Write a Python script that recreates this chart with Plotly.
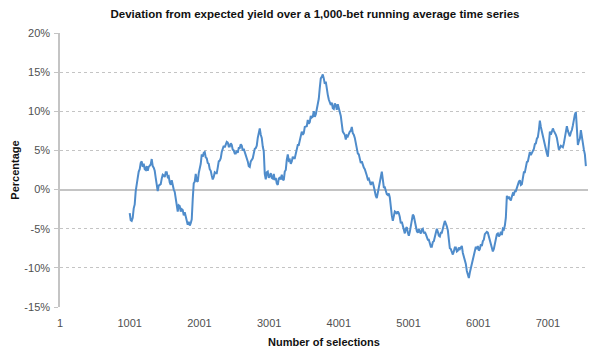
import plotly.graph_objects as go

# Running-average deviation (%), starting at selection 1001
deviation = [
    -3.0, -3.9, -4.0, -3.6, -2.4, -1.9, -0.2, 1.0, 1.5, 2.3, 2.6, 3.4, 3.6, 2.9, 3.3, 2.6, 2.5, 3.0, 2.4, 2.9,
    3.0, 3.2, 3.9, 3.0, 2.8, 2.4, 1.5, 0.3, -0.2, 0.5, 0.6, 0.7, 1.4, 1.9, 1.8, 1.6, 2.2, 2.2, 1.6, 1.7,
    0.9, 0.6, 1.2, 0.3, 0.0, -0.3, -1.0, -2.2, -2.8, -2.0, -2.1, -2.8, -2.5, -2.6, -3.3, -2.9, -3.5, -4.3, -4.5, -4.1,
    -4.6, -4.3, -3.8, -1.2, 0.8, 1.0, 2.0, 1.1, 1.0, 2.1, 2.6, 3.3, 4.5, 4.2, 4.7, 4.8, 4.1, 4.0, 3.4, 3.3,
    2.6, 2.4, 1.8, 1.3, 1.6, 2.2, 2.1, 2.1, 2.8, 3.6, 3.7, 4.0, 4.8, 5.3, 5.6, 5.4, 5.9, 6.1, 6.0, 5.5,
    5.5, 5.9, 5.7, 5.1, 5.0, 4.6, 4.6, 5.0, 4.7, 5.3, 5.3, 5.8, 5.6, 5.0, 5.2, 4.8, 4.7, 4.0, 3.6, 3.0,
    2.9, 3.6, 3.8, 4.0, 4.6, 5.2, 5.3, 5.6, 6.6, 7.5, 7.8, 7.0, 6.6, 5.5, 4.9, 2.0, 1.3, 2.2, 2.3, 1.5,
    1.7, 2.1, 1.5, 1.4, 2.0, 1.2, 1.5, 0.8, 0.6, 1.4, 1.5, 1.3, 1.9, 1.3, 1.2, 2.3, 2.5, 3.8, 4.5, 3.7,
    3.8, 3.3, 3.6, 4.2, 4.0, 4.0, 4.6, 5.4, 5.7, 5.7, 6.3, 7.1, 7.4, 7.0, 7.2, 8.0, 8.1, 8.1, 8.9, 8.4,
    8.6, 9.4, 9.2, 9.3, 10.0, 9.3, 9.6, 10.3, 10.5, 11.6, 13.0, 14.2, 14.4, 14.7, 14.2, 13.5, 13.8, 12.5, 12.1, 11.5,
    11.2, 10.8, 11.1, 10.4, 10.3, 11.0, 10.8, 10.2, 10.9, 10.4, 9.6, 9.4, 8.4, 7.4, 7.2, 7.0, 6.4, 6.9, 6.8, 7.2,
    7.4, 7.5, 8.0, 7.2, 7.0, 6.6, 6.0, 5.0, 4.6, 4.5, 3.9, 3.4, 3.6, 3.0, 2.8, 2.6, 2.0, 1.8, 1.3, 1.4,
    1.0, 0.6, 0.9, 0.9, 0.4, -0.5, -0.8, -1.1, -0.3, 0.6, 1.3, 1.6, 2.3, 1.0, 0.3, 0.3, -0.2, -0.6, -0.7, -0.5,
    -1.0, -2.4, -3.3, -4.0, -3.3, -2.8, -2.9, -3.1, -2.8, -3.0, -3.5, -4.3, -4.1, -4.6, -5.3, -5.6, -5.0, -4.8, -5.5, -5.9,
    -5.4, -4.6, -4.2, -3.2, -3.4, -4.1, -4.5, -5.3, -5.5, -5.0, -5.4, -5.6, -5.1, -5.0, -5.6, -5.4, -5.7, -6.1, -6.4, -6.4,
    -6.8, -7.3, -7.3, -6.7, -6.6, -5.9, -5.6, -5.0, -5.4, -5.9, -6.0, -5.5, -5.5, -4.8, -4.5, -4.0, -4.3, -4.7, -5.2, -6.6,
    -7.5, -7.6, -8.0, -8.3, -7.9, -7.4, -7.4, -7.9, -7.8, -7.4, -7.6, -7.3, -7.2, -8.1, -8.5, -8.8, -9.5, -10.4, -10.9, -11.3,
    -10.6, -10.0, -9.6, -8.8, -8.6, -7.8, -7.3, -7.6, -7.2, -7.8, -7.6, -7.0, -7.2, -6.6, -6.4, -5.7, -5.6, -5.4, -5.5, -6.0,
    -6.5, -7.2, -7.6, -7.9, -7.6, -6.9, -6.4, -5.7, -5.6, -6.0, -5.8, -5.4, -5.8, -5.0, -5.1, -4.6, -3.6, -0.8, -1.2, -0.9,
    -1.2, -1.4, -0.9, -0.5, -0.6, -0.2, -0.2, 0.3, 0.6, 1.0, 1.2, 0.6, 0.7, 1.6, 2.2, 2.2, 3.0, 3.5, 3.6, 4.4,
    4.8, 4.4, 4.7, 5.1, 5.2, 5.8, 5.9, 6.5, 6.7, 7.6, 8.8, 8.0, 7.4, 6.6, 6.2, 5.5, 5.2, 4.6, 4.2, 5.8,
    7.4, 7.0, 7.3, 7.8, 7.5, 7.3, 7.0, 6.6, 5.8, 5.1, 5.3, 5.6, 5.5, 5.4, 5.9, 6.5, 7.4, 8.1, 7.5, 7.0,
    6.8, 7.3, 7.6, 8.2, 9.0, 9.6, 9.9, 8.0, 5.7, 6.2, 6.5, 7.6, 6.5, 5.6, 5.1, 4.5, 3.0,
]
first_selection = 1001
step = 14.35
selections = [first_selection + step * i for i in range(len(deviation))]

x_ticks = [1, 1001, 2001, 3001, 4001, 5001, 6001, 7001]
y_ticks = [-15, -10, -5, 0, 5, 10, 15, 20]
y_labels = [f"{v}%" for v in y_ticks]

font_family = "Liberation Sans, Arial, sans-serif"

fig = go.Figure()
fig.add_trace(go.Scatter(
    x=selections, y=deviation, mode="lines",
    line=dict(color="#4f8ccb", width=2),
    hoverinfo="skip", showlegend=False,
))

fig.update_layout(
    width=600, height=353,
    margin=dict(l=60, r=12, t=33, b=46),
    paper_bgcolor="white", plot_bgcolor="white",
    font=dict(family=font_family, size=11, color="#505050"),
    title=dict(
        text="<b>Deviation from expected yield over a 1,000-bet running average time series</b>",
        x=0.525, xanchor="center", y=0.96, yanchor="middle",
        font=dict(family=font_family, size=11.5, color="#111111"),
    ),
)
fig.update_xaxes(
    range=[1, 7575], tickvals=x_ticks, ticktext=[str(t) for t in x_ticks],
    showgrid=False, zeroline=False, showline=False, ticks="",
    ticklabelstandoff=8, automargin=False,
    title=dict(text="<b>Number of selections</b>", standoff=10,
               font=dict(family=font_family, size=11, color="#111111")),
)
fig.update_yaxes(
    range=[-15, 20], tickvals=y_ticks, ticktext=y_labels,
    showgrid=True, gridcolor="#c4c4c4", griddash="dot", gridwidth=1,
    zeroline=True, zerolinecolor="#c4c4c4", zerolinewidth=1.5,
    showline=True, linecolor="#c4c4c4", linewidth=1.5,
    ticks="outside", ticklen=4, tickcolor="#c4c4c4",
    ticklabelstandoff=2, automargin=False,
    title=dict(text="<b>Percentage</b>", standoff=3,
               font=dict(family=font_family, size=11, color="#111111")),
)

fig.write_html("out.html")
